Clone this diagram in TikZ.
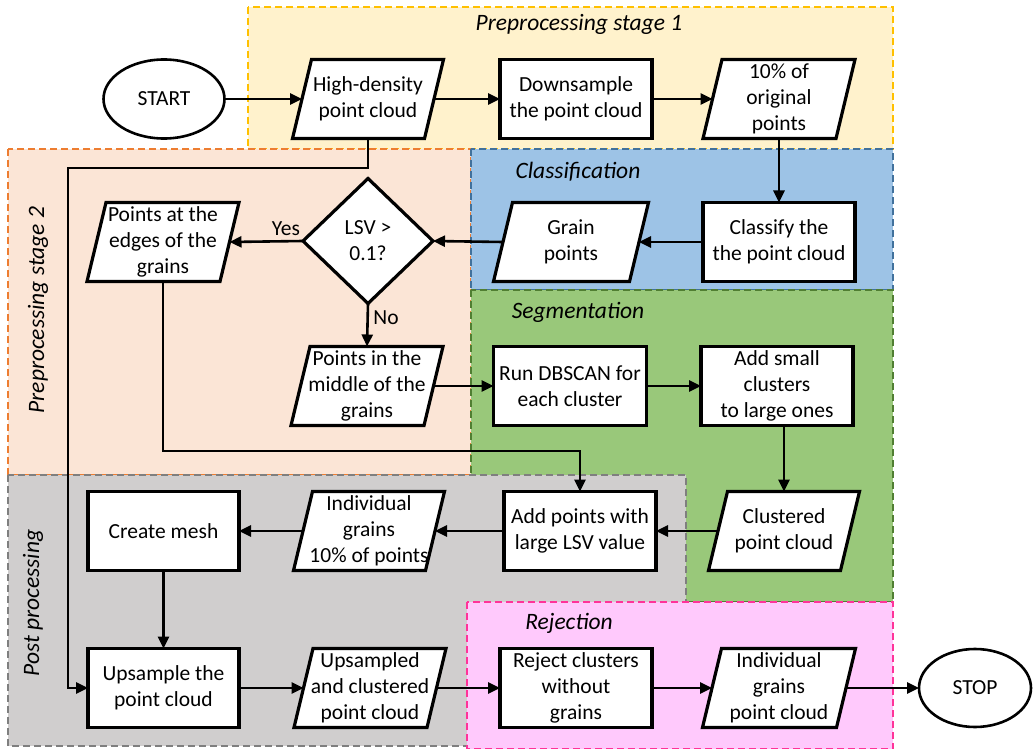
\documentclass[tikz,border=0pt]{standalone}
\usepackage{fontspec}
\setmainfont{Carlito}
\usetikzlibrary{arrows.meta,shapes.geometric,calc}
\definecolor{yfill}{HTML}{FFF2CC}
\definecolor{yline}{HTML}{FFC000}
\definecolor{pfill}{HTML}{FBE5D6}
\definecolor{pline}{HTML}{ED7D31}
\definecolor{bfill}{HTML}{9DC3E6}
\definecolor{bline}{HTML}{41719C}
\definecolor{gfill}{HTML}{99C87A}
\definecolor{gline}{HTML}{507E32}
\definecolor{grfill}{HTML}{D0CECE}
\definecolor{grline}{HTML}{7F7F7F}
\definecolor{mfill}{HTML}{FFC9FC}
\definecolor{mline}{HTML}{FF3399}
\tikzset{
  region/.style={dash pattern=on 7pt off 4pt, line width=1.2pt},
  boxline/.style={draw=black, line width=3.2pt, line join=miter},
  txt/.style={font=\fontsize{21.5}{26}\selectfont, align=center},
  procbox/.style={boxline, txt, fill=white, rectangle, minimum height=79pt, inner sep=0pt, outer sep=0pt},
  ptext/.style={txt, rectangle, minimum height=79pt, inner sep=0pt, outer sep=0pt},
  conn/.style={line width=2.6pt, -{Triangle[length=12pt,width=11pt]}},
  ttl/.style={font=\fontsize{23.5}{28}\selectfont\itshape, inner sep=0pt},
  lbl/.style={font=\fontsize{21.5}{26}\selectfont, inner sep=0pt},
}
\newcommand{\paranode}[5]{%
  \draw[boxline,fill=white] ({#2-#4/2+9.5},{#3-39.5}) -- ({#2+#4/2+9.5},{#3-39.5}) -- ({#2+#4/2-9.5},{#3+39.5}) -- ({#2-#4/2-9.5},{#3+39.5}) -- cycle;
  \node[ptext,minimum width=#4pt] (#1) at (#2,#3) {#5};
}
\begin{document}
\begin{tikzpicture}[x=1pt,y=-1pt]
\useasboundingbox (0,0) rectangle (1034,749);
% regions
\fill[yfill] (248,7) rectangle (893,149);
\draw[region,yline] (248,7) rectangle (893,149);
\fill[pfill] (8,149) rectangle (471,475);
\draw[region,pline] (8,149) rectangle (471,475);
\fill[bfill] (471,149) rectangle (893,290);
\draw[region,bline] (471,149) rectangle (893,290);
\fill[gfill] (471,290) rectangle (893,602);
\draw[region,gline] (471,290) rectangle (893,602);
\fill[grfill] (8,475) rectangle (686,746);
\draw[region,grline] (8,475) rectangle (686,746);
\fill[mfill] (467,602) rectangle (893,749);
\draw[region,mline] (467,602) rectangle (893,749);
% titles
\node[ttl] (t1) at (579,24) {Preprocessing stage 1};
\node[ttl] (t2) at (578,172) {Classification};
\node[ttl] (t3) at (578,312) {Segmentation};
\node[ttl] (t4) at (569,623) {Rejection};
\node[ttl,rotate=90] (t5) at (38,310) {Preprocessing stage 2};
\node[ttl,rotate=90] (t6) at (33,603) {Post processing};
% nodes
\node[draw=black, line width=2.6pt, txt, ellipse, fill=white, minimum width=121pt, minimum height=79pt, inner sep=0pt, outer sep=0pt] (start) at (164,99) {START};
\paranode{hd}{368}{99}{132}{High-density\\point cloud}
\node[procbox, minimum width=152pt] (down) at (576,99) {Downsample\\the point cloud};
\paranode{ten}{779}{99}{133}{10\% of\\original\\points}
\node[procbox, minimum width=152pt] (cls) at (779,242) {Classify the\\the point cloud};
\paranode{grain}{571}{242}{136}{Grain\\points}
\node[boxline, txt, diamond, fill=white, minimum width=130pt, minimum height=125pt, inner sep=0pt, outer sep=0pt] (dec) at (368,241) {LSV >\\0.1?};
\paranode{edges}{163}{242}{133}{Points at the\\edges of the\\grains}
\paranode{mid}{367}{386}{133}{Points in the\\middle of the\\grains}
\node[procbox, minimum width=153pt] (dbs) at (570,386) {Run DBSCAN for\\each cluster};
\node[procbox, minimum width=152pt] (small) at (777,386) {Add small\\clusters\\to large ones};
\paranode{clus}{784}{531}{132}{Clustered\\point cloud}
\node[procbox, minimum width=152pt] (addp) at (580,531) {Add points with\\large LSV value};
\paranode{ind}{369}{531}{132}{Individual\\grains\\10\% of points}
\node[procbox, minimum width=151pt] (mesh) at (163.5,531) {Create mesh};
\node[procbox, minimum width=151pt] (ups) at (163.5,688) {Upsample the\\point cloud};
\paranode{upc}{370}{688}{133}{Upsampled\\and clustered\\point cloud}
\node[procbox, minimum width=152pt] (rej) at (576,688) {Reject clusters\\without\\grains};
\paranode{ipc}{779}{688}{134}{Individual\\grains\\point cloud}
\node[draw=black, line width=2.6pt, txt, ellipse, fill=white, minimum width=112pt, minimum height=78pt, inner sep=0pt, outer sep=0pt] (stop) at (975,688) {STOP};
% labels
\node[lbl] (yes) at (286,229) {Yes};
\node[lbl] (no) at (386,318) {No};
% helper coordinates
\coordinate (h1) at (368,168);
\coordinate (h2) at (68,168);
\coordinate (e1) at (163,451);
% connectors
\draw[conn] (start.east) -- (hd.west);
\draw[conn] (hd.east) -- (down.west);
\draw[conn] (down.east) -- (ten.west);
\draw[conn] (ten.south) -- (cls.north);
\draw[conn] (cls.west) -- (grain.east);
\draw[conn] (grain.west) -- (dec.east);
\draw[conn] (dec.west) -- (edges.east);
\draw[conn] (dec.south) -- (mid.north);
\draw[conn] (mid.east) -- (dbs.west);
\draw[conn] (dbs.east) -- (small.west);
\draw[conn] (clus.north |- small.south) -- (clus.north);
\draw[conn] (clus.west) -- (addp.east);
\draw[conn] (edges.south) -- (e1) -| (addp.north);
\draw[conn] (addp.west) -- (ind.east);
\draw[conn] (ind.west) -- (mesh.east);
\draw[conn] (mesh.south) -- (ups.north);
\draw[conn] (hd.south) -- (h1) -- (h2) |- (ups.west);
\draw[conn] (ups.east) -- (upc.west);
\draw[conn] (upc.east) -- (rej.west);
\draw[conn] (rej.east) -- (ipc.west);
\draw[conn] (ipc.east) -- (stop.west);
\end{tikzpicture}
\end{document}
